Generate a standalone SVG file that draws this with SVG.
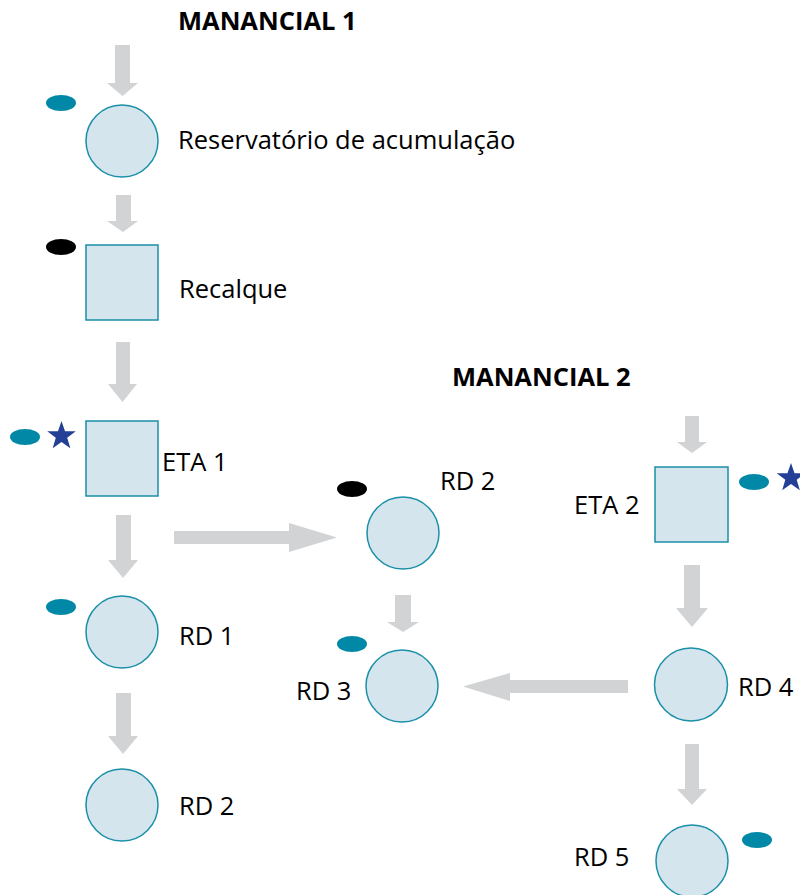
<svg xmlns="http://www.w3.org/2000/svg" xmlns:xlink="http://www.w3.org/1999/xlink" width="800" height="895" viewBox="0 0 800 895">
<style>
.arrow{fill:#d1d3d4;stroke:none}
.node{fill:#d5e5ee;stroke:#1a8fa8;stroke-width:1.5}
.lbl{font-family:"Open Sans","Noto Sans","Liberation Sans",sans-serif;font-size:25.5px;fill:#000}
.title{font-family:"Open Sans","Noto Sans","Liberation Sans",sans-serif;font-size:25.5px;font-weight:bold;fill:#000}
.teal{fill:#0088a6}
.blk{fill:#000}
.star{fill:#233f96}
</style>
<defs>
<polygon id="star" points="0,-15 3.53,-4.85 14.27,-4.64 5.71,1.85 8.82,12.14 0,6 -8.82,12.14 -5.71,1.85 -14.27,-4.64 -3.53,-4.85"/>
</defs>
<rect width="800" height="895" fill="#fff"/>
<g id="connectors">
<polygon class="arrow" points="115,45 130,45 130,83 138,83 122.5,96 107,83 115,83"/>
<polygon class="arrow" points="116,195 131,195 131,221 138,221 123,232 107,221 116,221"/>
<polygon class="arrow" points="116,342 130,342 130,384 137,384 122.5,402 108,384 116,384"/>
<polygon class="arrow" points="116,515 131,515 131,560 138,560 123,578 108,560 116,560"/>
<polygon class="arrow" points="116,693 131,693 131,736 138,736 123,754 108,736 116,736"/>
<polygon class="arrow" points="174,531 289,531 289,523 337,537.5 289,552 289,544 174,544"/>
<polygon class="arrow" points="395,595 411,595 411,622 419,622 403,632 387,622 395,622"/>
<polygon class="arrow" points="628,680 510,680 510,673 463,686.5 510,701 510,693 628,693"/>
<polygon class="arrow" points="685,416 699,416 699,442 707,442 692,453 677,442 685,442"/>
<polygon class="arrow" points="684,565 700,565 700,608 708,608 692,627 676,608 684,608"/>
<polygon class="arrow" points="685,744 699,744 699,789 707,789 692,805 677,789 685,789"/>
</g>
<g id="manancial1"><text class="title" x="178" y="30">MANANCIAL 1</text></g>
<g id="reservatorio">
<ellipse class="teal" cx="61" cy="103" rx="15" ry="8"/>
<circle class="node" cx="122" cy="141" r="36"/>
<text class="lbl" x="178" y="149">Reservatório de acumulação</text>
</g>
<g id="recalque">
<ellipse class="blk" cx="61" cy="247" rx="15" ry="8"/>
<rect class="node" x="86" y="245" width="72" height="75"/>
<text class="lbl" x="179" y="298">Recalque</text>
</g>
<g id="eta1">
<ellipse class="teal" cx="25" cy="437" rx="15" ry="8"/>
<use xlink:href="#star" class="star" x="61.5" y="436"/>
<rect class="node" x="86" y="421" width="72" height="75"/>
<text class="lbl" x="162" y="471">ETA 1</text>
</g>
<g id="rd1">
<ellipse class="teal" cx="61" cy="607" rx="15" ry="8"/>
<circle class="node" cx="122" cy="632" r="36"/>
<text class="lbl" x="179" y="645">RD 1</text>
</g>
<g id="rd2a">
<circle class="node" cx="122" cy="805" r="36"/>
<text class="lbl" x="179" y="815">RD 2</text>
</g>
<g id="rd2b">
<ellipse class="blk" cx="352" cy="489" rx="15" ry="8"/>
<circle class="node" cx="403" cy="533" r="36"/>
<text class="lbl" x="440" y="490">RD 2</text>
</g>
<g id="rd3">
<ellipse class="teal" cx="352" cy="644" rx="15" ry="8"/>
<circle class="node" cx="402" cy="686" r="36"/>
<text class="lbl" x="296" y="700">RD 3</text>
</g>
<g id="manancial2"><text class="title" x="452" y="386">MANANCIAL 2</text></g>
<g id="eta2">
<rect class="node" x="655" y="467" width="73" height="75"/>
<ellipse class="teal" cx="754" cy="482" rx="15" ry="8"/>
<use xlink:href="#star" class="star" x="791" y="478"/>
<text class="lbl" x="574" y="514">ETA 2</text>
</g>
<g id="rd4">
<circle class="node" cx="691" cy="684.5" r="36.5"/>
<text class="lbl" x="738" y="696">RD 4</text>
</g>
<g id="rd5">
<circle class="node" cx="692" cy="861" r="36"/>
<ellipse class="teal" cx="757" cy="840" rx="15" ry="8"/>
<text class="lbl" x="574" y="866">RD 5</text>
</g>
</svg>
